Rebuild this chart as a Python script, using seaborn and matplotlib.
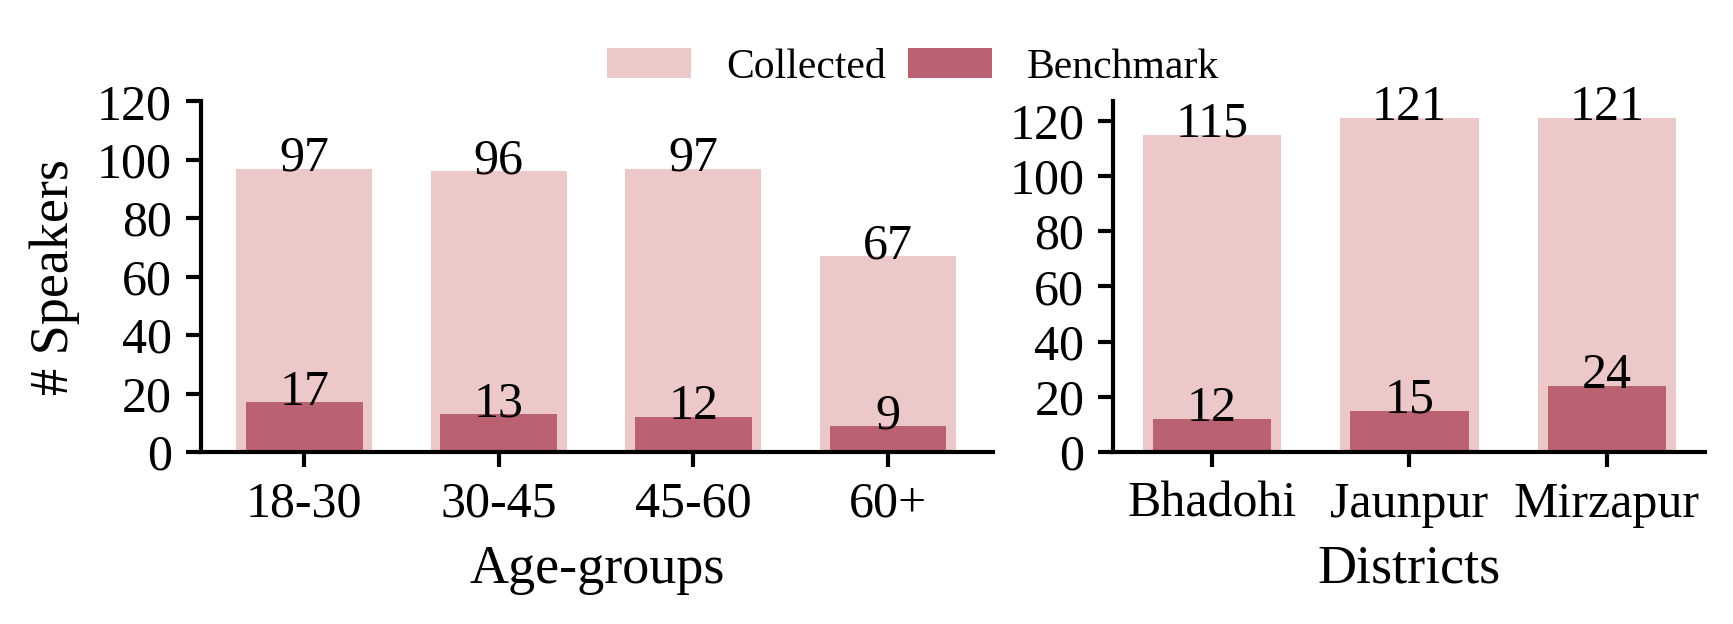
import matplotlib
matplotlib.use('Agg')
import matplotlib.pyplot as plt
import seaborn as sns
import pandas as pd

# Data
age_groups = ['18-30', '30-45', '45-60', '60+']
age_collected = [97, 96, 97, 67]
age_benchmark = [17, 13, 12, 9]

districts = ['Bhadohi', 'Jaunpur', 'Mirzapur']
dist_collected = [115, 121, 121]
dist_benchmark = [12, 15, 24]

light = '#EDC8C8'
dark = '#BB6272'

sns.set_style('ticks')
plt.rcParams['font.family'] = ['Liberation Serif', 'DejaVu Serif']
plt.rcParams['font.size'] = 12
for key in ['text.color', 'axes.labelcolor', 'xtick.color', 'ytick.color', 'axes.edgecolor']:
    plt.rcParams[key] = 'black'
plt.rcParams['axes.linewidth'] = 1.0

fig = plt.figure(figsize=(1733 / 300, 624 / 300), dpi=300)
ax1 = fig.add_axes([0.116, 0.2756, 0.457, 0.562])
ax2 = fig.add_axes([0.6425, 0.2756, 0.3416, 0.562])

age_df = pd.DataFrame({'group': age_groups, 'collected': age_collected, 'benchmark': age_benchmark})
dist_df = pd.DataFrame({'group': districts, 'collected': dist_collected, 'benchmark': dist_benchmark})


def draw(ax, df):
    sns.barplot(data=df, x='group', y='collected', color=light, width=0.7,
                saturation=1, linewidth=0, ax=ax, label='Collected')
    sns.barplot(data=df, x='group', y='benchmark', color=dark, width=0.6,
                saturation=1, linewidth=0, ax=ax, label='Benchmark')
    for i, (c, b) in enumerate(zip(df['collected'], df['benchmark'])):
        ax.text(i, c - 0.8, str(c), ha='center', va='baseline', fontsize=12)
        ax.text(i, b - 0.8, str(b), ha='center', va='baseline', fontsize=12)
    ax.yaxis.set_major_locator(plt.MultipleLocator(20))
    ax.tick_params(labelsize=12, width=1.0)
    sns.despine(ax=ax)
    if ax.get_legend() is not None:
        ax.get_legend().remove()


draw(ax1, age_df)
ax1.set_ylim(0, 120)
ax1.set_xlim(-0.53, 3.54)
ax1.set_xlabel('Age-groups', fontsize=13)
ax1.set_ylabel('# Speakers', fontsize=13)

draw(ax2, dist_df)
ax2.set_ylim(0, 127.05)
ax2.set_xlim(-0.5, 2.5)
ax2.set_xlabel('Districts', fontsize=13)
ax2.set_ylabel('')

handles, labels = ax1.get_legend_handles_labels()
fig.legend(handles[:2], labels[:2], loc='center', bbox_to_anchor=(0.527, 0.892),
           ncol=2, frameon=False, fontsize=10, columnspacing=0.55, handletextpad=0.84)

fig.savefig('out.png', dpi=300)
